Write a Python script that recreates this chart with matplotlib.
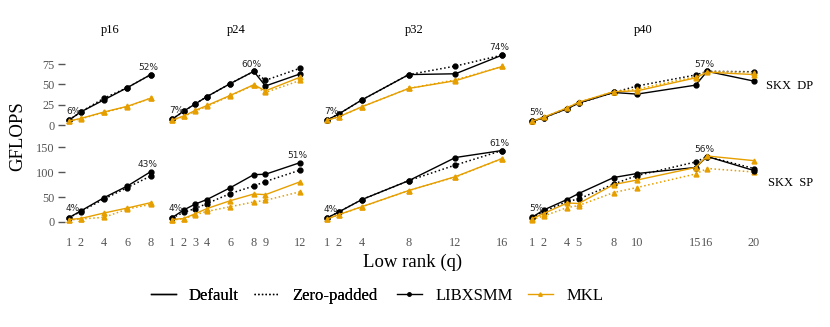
import numpy as np
import matplotlib
matplotlib.use('Agg')
import matplotlib.pyplot as plt
from matplotlib.lines import Line2D

plt.rcParams['font.family'] = ['Liberation Serif', 'DejaVu Serif']

ORANGE = '#E69F00'
GRAY = '#555555'

titles = ['p16', 'p24', 'p32', 'p40']
q = [[1, 2, 4, 6, 8],
     [1, 2, 3, 4, 6, 8, 9, 12],
     [1, 2, 4, 8, 12, 16],
     [1, 2, 4, 5, 8, 10, 15, 16, 20]]

# ---- SKX DP (top row) ----
dp_libx = [[6, 16, 31, 46, 62],
           [7, 17, 26, 35, 51, 66, 48, 63],
           [6, 13.5, 31, 62, 63, 86],
           [4.5, 9, 20, 27, 40, 38, 49, 66, 54]]
dp_libx_zp = [[6, 16, 33, 46, 62],
              [7, 17, 26, 35, 51, 66, 55, 70],
              [6, 13.5, 31, 62, 72.5, 86],
              [4.5, 9, 20, 27, 40, 48, 61.5, 66, 65.5]]
dp_mkl = [[5, 8, 16, 23, 33],
          [6, 11, 18, 24, 36.5, 49.5, 42, 59],
          [6, 10, 22.5, 45, 54.5, 72],
          [4.5, 9.5, 21, 28, 41, 42, 58, 65, 62]]
dp_mkl_zp = [[4.5, 7.5, 15.5, 22.5, 33],
             [6, 10.5, 17, 23, 36, 49, 40, 55],
             [6, 10, 22.5, 45, 55.5, 72],
             [4.5, 9.5, 21, 28, 41, 44, 59.5, 66, 64.5]]
dp_pct = [('6%', '52%'), ('7%', '60%'), ('7%', '74%'), ('5%', '57%')]

# ---- SKX SP (bottom row) ----
sp_libx = [[8.7, 22, 48.7, 72, 100.7],
           [8.7, 24, 36, 45, 68.7, 94.7, 95.5, 119],
           [8, 20, 45, 82.7, 129, 143],
           [9.3, 24, 45, 57, 89, 97, 109, 131, 103]]
sp_libx_zp = [[8.5, 21, 46, 69, 92],
              [8, 19.3, 27, 37, 57, 72, 81, 104],
              [8, 20, 45, 82.7, 114, 143],
              [9, 21, 41, 46, 76, 93, 120, 131, 107]]
sp_mkl = [[5, 7, 18, 28, 38.7],
          [5, 7, 16.7, 27, 42.7, 56, 54.7, 80.7],
          [6, 14.7, 30.7, 63, 90.7, 127],
          [6.7, 17, 38, 37, 75, 84, 109, 132, 122.7]]
sp_mkl_zp = [[4, 6, 9.3, 26, 35.3],
             [4, 6.7, 14.7, 21.3, 30.7, 40, 43.3, 60.7],
             [6, 14.5, 30.5, 63, 90, 127],
             [5, 12, 28.7, 33, 59, 69, 96, 107, 100]]
sp_pct = [('4%', '43%'), ('4%', '51%'), ('4%', '61%'), ('5%', '56%')]

#====================================================================================
W, H = 830, 327
fig = plt.figure(figsize=(W / 100, H / 100), dpi=100)

sx = 11.68                     # pixels per q unit
x1_px = [69, 172, 327, 532]    # pixel of q=1 in each column
pad = 0.35

# row: (zero pixel, px per unit, top px, bottom px, yticks)
rows = [(125, 0.813, 45, 131, [0, 25, 50, 75]),
        (222, 0.5, 140, 228, [0, 50, 100, 150])]
row_data = [(dp_libx, dp_libx_zp, dp_mkl, dp_mkl_zp, dp_pct),
            (sp_libx, sp_libx_zp, sp_mkl, sp_mkl_zp, sp_pct)]

for r, (y0, sy, top, bot, yt) in enumerate(rows):
    libx, libx_zp, mkl, mkl_zp, pct = row_data[r]
    for c in range(4):
        xs = q[c]
        xmin, xmax = 1 - pad, max(xs) + pad
        left = x1_px[c] - pad * sx
        width = (xmax - xmin) * sx
        ax = fig.add_axes([left / W, 1 - bot / H, width / W, (bot - top) / H])
        ax.set_xlim(xmin, xmax)
        ax.set_ylim((y0 - bot) / sy, (y0 - top) / sy)

        ax.plot(xs, libx_zp[c], ':', color='black', lw=1.1, marker='o', ms=3.5, clip_on=False)
        ax.plot(xs, mkl_zp[c], ':', color=ORANGE, lw=1.1, marker='^', ms=3.5, clip_on=False)
        ax.plot(xs, libx[c], '-', color='black', lw=1.0, marker='o', ms=3.5, clip_on=False)
        ax.plot(xs, mkl[c], '-', color=ORANGE, lw=1.0, marker='^', ms=3.5, clip_on=False)

        # efficiency labels
        ax.annotate(pct[c][0], (xs[0], libx[c][0]), xytext=(3, 3), textcoords='offset points',
                    ha='center', va='bottom', fontsize=6.5, family='DejaVu Sans', color='#222222')
        imax = int(np.argmax(libx[c]))
        ax.annotate(pct[c][1], (xs[imax], max(libx[c])), xytext=(-2, 2), textcoords='offset points',
                    ha='center', va='bottom', fontsize=6.5, family='DejaVu Sans', color='#222222')

        for sp in ax.spines.values():
            sp.set_visible(False)
        ax.set_yticks(yt)
        if c == 0:
            ax.tick_params(axis='y', length=5, width=1, color=GRAY, labelcolor=GRAY,
                           labelsize=8.8, pad=2.5)
        else:
            ax.tick_params(axis='y', left=False, labelleft=False)
        ax.set_xticks(xs)
        if r == 1:
            ax.tick_params(axis='x', length=0, labelcolor=GRAY, labelsize=8.8, pad=6.5)
        else:
            ax.tick_params(axis='x', bottom=False, labelbottom=False)
        if r == 0:
            ax.set_title(titles[c], fontsize=9, pad=9)

fig.text(813 / W, 1 - 86 / H, 'SKX  DP', ha='right', va='center', fontsize=9)
fig.text(813 / W, 1 - 183 / H, 'SKX  SP', ha='right', va='center', fontsize=9)
fig.text(18 / W, 1 - 136 / H, 'GFLOPS', rotation=90, ha='center', va='center', fontsize=13.5)
fig.text(413 / W, 1 - 262 / H, 'Low rank (q)', ha='center', va='center', fontsize=13.5)

style_handles = [Line2D([], [], color='black', lw=1.0),
                 Line2D([], [], color='black', lw=1.0, ls=':')]
lib_handles = [Line2D([], [], color='black', lw=1.0, marker='o', ms=2.5),
               Line2D([], [], color=ORANGE, lw=1.0, marker='^', ms=2.5)]
kw = dict(loc='center', ncol=2, frameon=False, fontsize=12, handlelength=1.5,
          columnspacing=0.9, handletextpad=0.8, borderaxespad=0, borderpad=0)
leg1 = fig.legend(style_handles, ['Default', 'Zero-padded'],
                  bbox_to_anchor=(264 / W, 1 - 296 / H), **kw)
fig.add_artist(leg1)
fig.legend(lib_handles, ['LIBXSMM', 'MKL'], bbox_to_anchor=(500 / W, 1 - 296 / H), **kw)

plt.savefig('out.png', dpi=100)
